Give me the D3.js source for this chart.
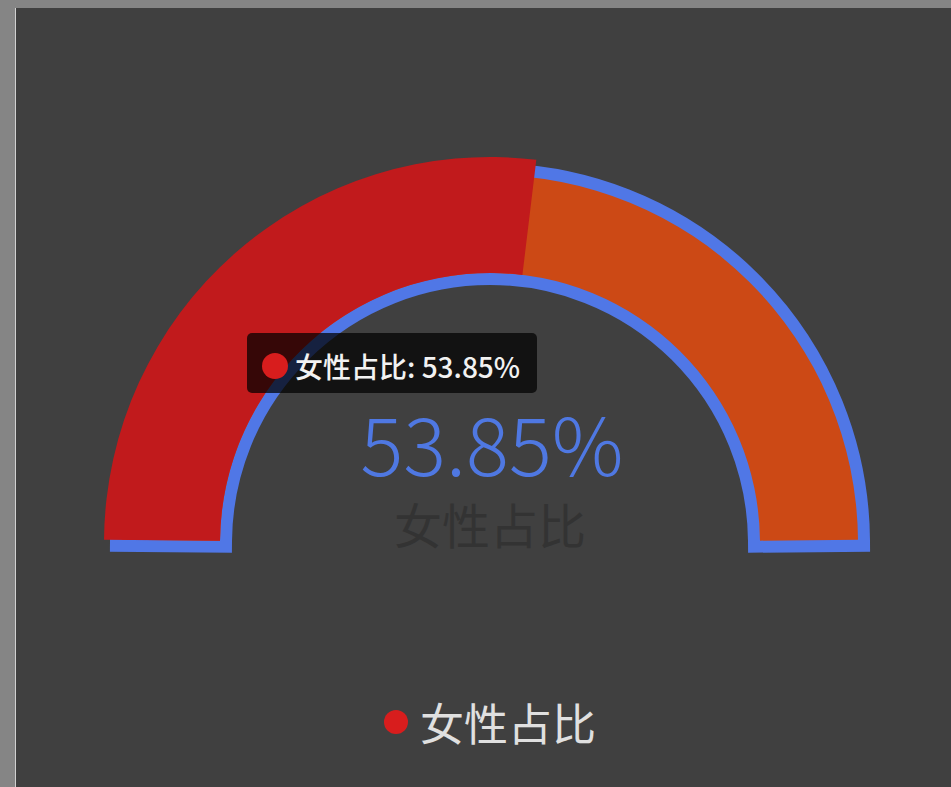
<!DOCTYPE html>
<html>
<head>
<meta charset="utf-8">
<script src="https://cdn.jsdelivr.net/npm/d3@7"></script>
<style>
  html, body { margin: 0; padding: 0; background: #858585; }
  svg { display: block; }
</style>
</head>
<body>
<div id="wrapper"></div>
<script>
// data
var categories = ["女性占比"];
var values = [53.85];
var trackMax = [100];
var labelFormat = function(v) { return v.toFixed(2) + "%"; };

var W = 951, H = 787;
var cx = 490, cy = 543;
var deg = Math.PI / 180;

var svg = d3.select('#wrapper')
            .append('svg')
            .attr('width', W)
            .attr('height', H);

// panel
svg.append('rect')
   .attr('x', 16).attr('y', 8)
   .attr('width', W - 16).attr('height', H - 8)
   .style('fill', '#404040');
svg.append('line')
   .attr('x1', 15.5).attr('x2', 15.5)
   .attr('y1', 8).attr('y2', H)
   .style('stroke', '#d0d0d0').style('stroke-width', 1);

// angle scale: value -> angle
var angle = d3.scaleLinear()
              .domain([0, trackMax[0]])
              .range([-89.5 * deg, 89.5 * deg]);

var g = svg.append('g')
           .attr('transform', 'translate(' + cx + ',' + cy + ')');

// background track (orange with blue rim)
var trackArc = d3.arc()
                 .innerRadius(270)
                 .outerRadius(368)
                 .startAngle(angle(0))
                 .endAngle(angle(trackMax[0]));

g.append('path')
 .attr('d', trackArc())
 .style('fill', '#cc4915')
 .style('stroke', '#5077e6')
 .style('stroke-width', 24)
 .style('stroke-linejoin', 'miter')
 .style('paint-order', 'stroke fill');

// value sector (highlighted, so bigger outer radius)
var valueArc = d3.arc()
                 .innerRadius(270)
                 .outerRadius(386)
                 .startAngle(angle(0));

g.selectAll('path.value')
 .data(values)
 .enter()
 .append('path')
 .attr('class', 'value')
 .attr('d', function(d) { return valueArc.endAngle(angle(d))(); })
 .style('fill', '#c11a1c');

// center labels
svg.append('text')
   .attr('x', cx + 2).attr('y', 476)
   .attr('text-anchor', 'middle')
   .style('font-family', '"Noto Sans CJK SC", "Noto Sans", sans-serif')
   .style('font-weight', 300)
   .style('font-size', '80px')
   .style('fill', '#4f78e2')
   .text(labelFormat(values[0]));

svg.append('text')
   .attr('x', cx).attr('y', 523)
   .attr('text-anchor', 'middle')
   .attr('dominant-baseline', 'central')
   .style('font-family', '"Noto Sans CJK SC", sans-serif')
   .style('font-size', '48px')
   .style('fill', '#333333')
   .text(categories[0]);

// legend
var legend = svg.append('g').attr('transform', 'translate(396,722)');
legend.append('circle').attr('r', 12).style('fill', '#d81d1d');
legend.append('text')
      .attr('x', 24).attr('y', 0)
      .attr('dominant-baseline', 'central')
      .style('font-family', '"Noto Sans CJK SC", sans-serif')
      .style('font-size', '44px')
      .style('fill', '#e0e0e0')
      .text(categories[0]);

// tooltip
var tip = svg.append('g').attr('transform', 'translate(247,333)');
tip.append('rect')
   .attr('width', 290).attr('height', 60)
   .attr('rx', 5).attr('ry', 5)
   .style('fill', 'rgba(0,0,0,0.72)');
tip.append('circle')
   .attr('cx', 28).attr('cy', 33).attr('r', 13)
   .style('fill', '#d81d1d');
tip.append('text')
   .attr('x', 48).attr('y', 33)
   .attr('dominant-baseline', 'central')
   .style('font-family', '"Noto Sans CJK SC", sans-serif')
   .style('font-weight', 500)
   .style('font-size', '28px')
   .style('fill', '#f2f2f2')
   .text(categories[0] + ': ' + labelFormat(values[0]));
</script>
</body>
</html>
